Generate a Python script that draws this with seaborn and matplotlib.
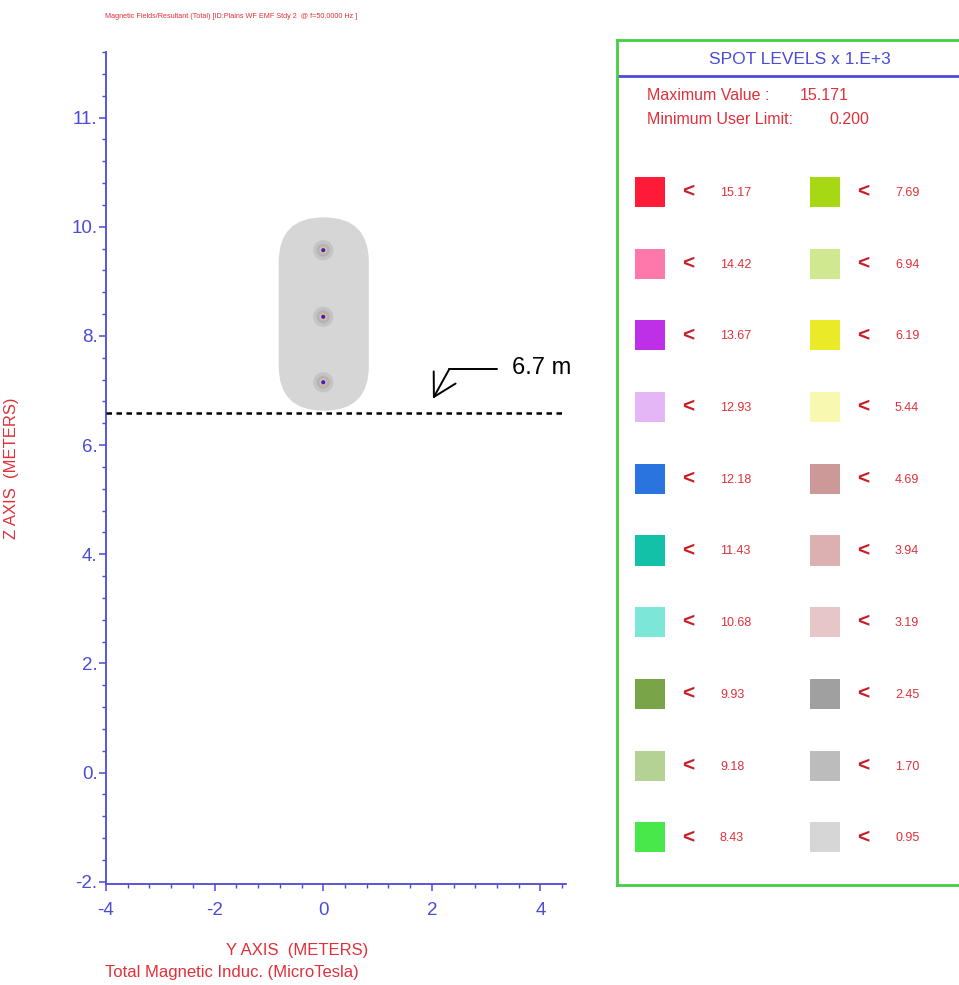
import numpy as np
import pandas as pd
import seaborn as sns
import matplotlib.pyplot as plt
from matplotlib.patches import FancyBboxPatch
from matplotlib.ticker import MultipleLocator

# Conductor bundle (horizontal position, height) in meters
cond_y = [0.0, 0.0, 0.0]
cond_z = [9.57, 8.35, 7.15]

# Extent of the 0.95 (x1.E+3) spot region around the bundle
oval_left, oval_right = -0.82, 0.84
oval_bottom, oval_top = 6.63, 10.17

# Clearance line and its label
clearance_z = 6.58
clearance_label = "6.7 m"

# Spot levels (x 1.E+3 MicroTesla) and their colours
levels = [15.17, 14.42, 13.67, 12.93, 12.18, 11.43, 10.68, 9.93, 9.18, 8.43,
          7.69, 6.94, 6.19, 5.44, 4.69, 3.94, 3.19, 2.45, 1.70, 0.95]
level_colors = ["#ff1a38", "#ff78ab", "#bd30e8", "#e4b6f6", "#2a74e0",
                "#12c1a8", "#7ce6d8", "#7aa448", "#b4d294", "#48e84a",
                "#a8d814", "#d0e890", "#eaea28", "#f8f8b0", "#cc9898",
                "#dcb0b0", "#e6c6c8", "#a0a0a0", "#bcbcbc", "#d6d6d6"]
max_value = "15.171"
min_limit = "0.200"

zticks = [12, 10, 8, 6, 4, 2, 0, -2]
zticklabels = ["11.", "10.", "8.", "6.", "4.", "2.", "0.", "-2."]
yticks = [-4, -2, 0, 2, 4]

BLUE = "#4b4bd8"
RED = "#e0303a"
DARKRED = "#c81e28"
GREEN = "#44d044"

sns.set_theme(style="white")
plt.rcParams["font.family"] = ["Liberation Sans", "DejaVu Sans"]

W, H = 959, 985
fig = plt.figure(figsize=(W / 100, H / 100), dpi=100)

# ---- main cross-section plot
ax = fig.add_axes([106 / W, (H - 884) / H, 460 / W, 832 / H])
ax.set_xlim(-4, 4.47)
ax.set_ylim(-2.04, 13.2)

oval = FancyBboxPatch((oval_left, oval_bottom), oval_right - oval_left,
                      oval_top - oval_bottom,
                      boxstyle="round,pad=0,rounding_size=0.82",
                      facecolor=level_colors[-1], edgecolor="none", zorder=1)
ax.add_patch(oval)

cond = pd.DataFrame({"y": cond_y, "z": cond_z})
sns.scatterplot(data=cond, x="y", y="z", ax=ax, s=210, color="#c2c2c2",
                edgecolor="none", alpha=0.9, zorder=2, legend=False)
sns.scatterplot(data=cond, x="y", y="z", ax=ax, s=90, color="#b4b4b4",
                edgecolor="none", zorder=3, legend=False)
sns.scatterplot(data=cond, x="y", y="z", ax=ax, s=30, color="#e8b898",
                edgecolor="none", zorder=4, legend=False)
sns.scatterplot(data=cond, x="y", y="z", ax=ax, s=9, color="#2a2ad0",
                edgecolor="none", zorder=5, legend=False)

ax.plot([-4, 4.47], [clearance_z, clearance_z], color="black", lw=1.8,
        dashes=(2.2, 1.8), zorder=6)
ax.plot([3.2, 2.32], [7.39, 7.39], color="black", lw=1.4)
ax.annotate("", xy=(2.02, 6.85), xytext=(2.32, 7.39),
            arrowprops=dict(arrowstyle="->,head_length=0.8,head_width=0.45",
                            color="black", lw=1.4, mutation_scale=20,
                            shrinkA=0, shrinkB=0))
ax.text(3.47, 7.41, clearance_label, fontsize=17, color="black",
        ha="left", va="center")

for side in ["top", "right"]:
    ax.spines[side].set_visible(False)
for side in ["left", "bottom"]:
    ax.spines[side].set_color(BLUE)
    ax.spines[side].set_linewidth(1.3)

ax.set_xticks(yticks)
ax.set_xticklabels([str(t) for t in yticks])
ax.set_yticks(zticks)
ax.set_yticklabels(zticklabels)
ax.xaxis.set_minor_locator(MultipleLocator(0.4))
ax.yaxis.set_minor_locator(MultipleLocator(0.4))
ax.tick_params(axis="both", which="major", direction="out", length=5,
               width=1.1, color=BLUE, labelcolor=BLUE, labelsize=13.5,
               bottom=True, left=True)
ax.tick_params(axis="both", which="minor", direction="out", length=3,
               width=1.0, color=BLUE, bottom=True, left=True)
ax.tick_params(axis="x", which="major", pad=8)
ax.tick_params(axis="y", which="major", pad=1)

ax.set_xlabel("Y AXIS  (METERS)", color=RED, fontsize=12)
ax.xaxis.set_label_coords(0.415, -0.071)
ax.set_ylabel("Z AXIS  (METERS)", color=RED, fontsize=12)
ax.yaxis.set_label_coords(-0.189, 0.5)

fig.text(105 / W, 1 - 972 / H, "Total Magnetic Induc. (MicroTesla)",
         color=RED, fontsize=12, ha="left", va="center")
fig.text(105 / W, 1 - 16 / H,
         "Magnetic Fields/Resultant (Total) [ID:Plains WF EMF Stdy 2  @ f=50.0000 Hz ]",
         color=RED, fontsize=5.2, ha="left", va="center")

# ---- spot level panel (local pixel coordinates)
lg = fig.add_axes([617 / W, (H - 885) / H, 360 / W, 845 / H])
lg.set_xlim(0, 360)
lg.set_ylim(845, 0)
lg.set_xticks([])
lg.set_yticks([])
lg.set_facecolor("white")
lg.spines["right"].set_visible(False)
for side in ["left", "top", "bottom"]:
    lg.spines[side].set_color(GREEN)
    lg.spines[side].set_linewidth(2)

lg.plot([0, 360], [36, 36], color=BLUE, lw=2)
lg.text(183, 19, "SPOT LEVELS x 1.E+3", color=BLUE, fontsize=12.5,
        ha="center", va="center")
lg.text(30, 56, "Maximum Value :", color=RED, fontsize=11.5, va="center")
lg.text(183, 56, max_value, color=RED, fontsize=11.5, va="center")
lg.text(30, 79, "Minimum User Limit:", color=RED, fontsize=11.5, va="center")
lg.text(212, 79, min_limit, color=RED, fontsize=11.5, va="center")

n_rows = 10
swatch = pd.DataFrame({
    "label": [f"{v:.2f}" for v in levels],
    "x": [33 if i < n_rows else 208 for i in range(len(levels))],
    "y": [152 + (i % n_rows) * 71.7 for i in range(len(levels))],
})
sns.scatterplot(data=swatch, x="x", y="y", hue="label",
                palette=level_colors, hue_order=list(swatch["label"]),
                marker="s", s=470, edgecolor="none", legend=False, ax=lg)
for _, r in swatch.iterrows():
    lg.text(r["x"] + 38, r["y"], "<", color=DARKRED, fontsize=15,
            fontweight="bold", ha="center", va="center")
    lg.text(r["x"] + 70, r["y"] + 1, r["label"], color=RED, fontsize=9,
            ha="left", va="center")
lg.set_xlabel("")
lg.set_ylabel("")

fig.savefig("out.png", dpi=100)
